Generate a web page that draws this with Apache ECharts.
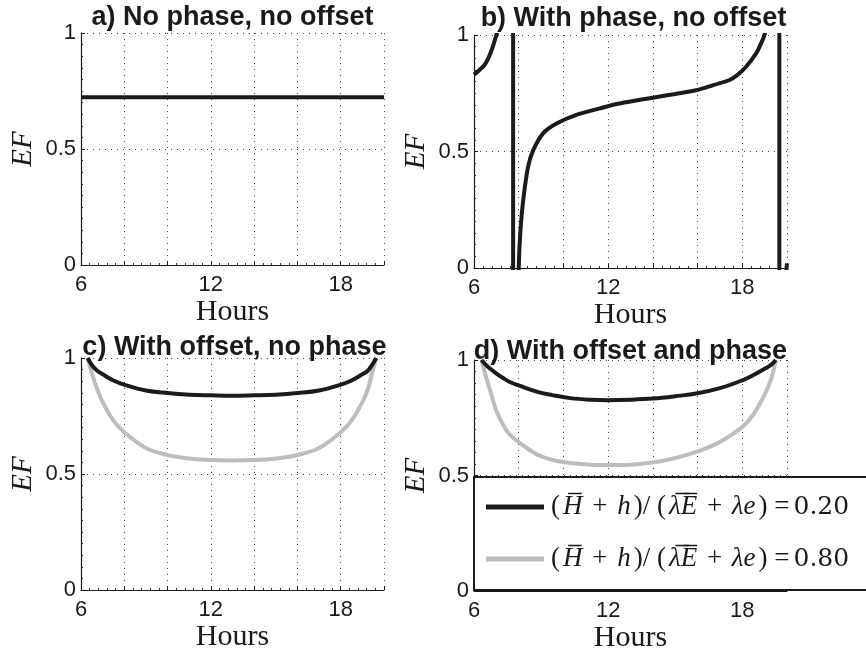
<!DOCTYPE html>
<html>
<head>
<meta charset="utf-8">
<script src="https://cdn.jsdelivr.net/npm/echarts@6/dist/echarts.min.js"></script>
<style>html,body{margin:0;padding:0;background:#fff;}#c{width:866px;height:655px;}</style>
</head>
<body>
<div id="c"></div>
<script>
// ---------- data ----------
const panelTitles = ['a) No phase, no offset', 'b) With phase, no offset', 'c) With offset, no phase', 'd) With offset and phase'];
const xTickLabels = [6, 12, 18];
const seriesNames = ['ratio020', 'ratio080'];
const ratioLabels = ['0.20', '0.80'];

// a) constant
const aHours = [6, 20];
const aEF = [0.723, 0.723];

// b) with phase, no offset (values beyond [0,1] are clipped)
const bHours = [6.0, 6.25, 6.5, 6.75, 7.0, 7.25, 7.5, 7.65, 7.74, 7.76, 7.85, 7.95, 8.0, 8.07, 8.2, 8.42, 8.65, 9.09, 9.69, 10.58, 11.63, 12.37, 13, 14, 15, 16, 16.7, 17.43, 17.8, 18.17, 18.62, 18.84, 18.99, 19.2, 19.45, 19.6, 19.65, 19.67, 19.8, 19.95, 20.0];
const bEF = [0.83, 0.85, 0.875, 0.925, 1.0, 1.1, 1.4, 2.5, 30, -30, -2, -0.3, 0.0, 0.15, 0.29, 0.435, 0.506, 0.578, 0.62, 0.657, 0.685, 0.704, 0.715, 0.731, 0.747, 0.764, 0.785, 0.807, 0.83, 0.864, 0.921, 0.964, 1.0, 1.1, 1.6, 4, 30, -30, -2, -0.05, 0.02];

// c) with offset, no phase
const cHours = [6.31, 6.5, 6.75, 7, 7.5, 8, 9, 10, 11, 12, 13, 14, 15, 16, 17, 18, 18.5, 19, 19.25, 19.45, 19.64];
const cEF020 = [1.0, 0.97, 0.945, 0.93, 0.903, 0.885, 0.86, 0.849, 0.842, 0.839, 0.837, 0.839, 0.842, 0.849, 0.86, 0.885, 0.903, 0.93, 0.945, 0.97, 1.0];
const cEF080 = [1.0, 0.935, 0.865, 0.81, 0.73, 0.68, 0.612, 0.582, 0.567, 0.56, 0.558, 0.56, 0.567, 0.582, 0.612, 0.68, 0.73, 0.81, 0.865, 0.935, 1.0];

// d) with offset and phase
const dHours = [6.34, 6.5, 6.7, 7, 7.3, 7.6, 8, 8.8, 9.5, 10.3, 11.2, 12, 13, 14, 15, 16, 17, 18, 18.5, 19, 19.3, 19.5];
const dEF020 = [1.0, 0.982, 0.964, 0.942, 0.922, 0.905, 0.89, 0.863, 0.848, 0.835, 0.828, 0.826, 0.828, 0.833, 0.843, 0.856, 0.878, 0.912, 0.935, 0.962, 0.98, 1.0];
const dEF080 = [1.0, 0.94, 0.875, 0.78, 0.72, 0.677, 0.645, 0.592, 0.568, 0.554, 0.547, 0.545, 0.547, 0.556, 0.575, 0.604, 0.645, 0.71, 0.765, 0.85, 0.92, 1.0];

// ---------- layout ----------
const grids = [
  {left: 81, top: 33, width: 303, height: 232},
  {left: 474, top: 35, width: 313, height: 233},
  {left: 81, top: 358, width: 303, height: 232},
  {left: 474, top: 360, width: 313, height: 231}
];
const titleY = [17.5, 19, 347.5, 352];
const BLACK = '#1b1b1b', GRAY = '#bdbdbd';

function pairs(xs, ys) { return xs.map((x, i) => [x, ys[i]]); }

const xAxes = grids.map((g, i) => ({
  type: 'value', gridIndex: i, min: 6, max: 20, interval: 2,
  name: 'Hours', nameLocation: 'middle', nameGap: 32,
  nameTextStyle: {fontFamily: 'Liberation Serif', fontSize: 30, color: '#1a1a1a'},
  axisLine: {show: true, onZero: false, lineStyle: {color: '#1a1a1a', width: 1.2}},
  axisTick: {show: true, inside: true, length: 4, lineStyle: {color: '#1a1a1a'}},
  minorTick: {show: true, splitNumber: 5, length: 2, lineStyle: {color: '#333'}},
  axisLabel: {
    fontFamily: 'Liberation Sans', fontSize: 22, color: '#1a1a1a', margin: 9,
    formatter: v => (xTickLabels.indexOf(v) >= 0 ? String(v) : '')
  },
  splitLine: {show: true, lineStyle: {color: '#444', width: 1, type: [1, 5]}}
}));

const yAxes = grids.map((g, i) => ({
  type: 'value', gridIndex: i, min: 0, max: 1, interval: 0.5,
  name: 'EF', nameLocation: 'middle', nameGap: 43,
  nameTextStyle: {fontFamily: 'Liberation Serif', fontStyle: 'italic', fontSize: 29, color: '#1a1a1a'},
  axisLine: {show: true, lineStyle: {color: '#1a1a1a', width: 1.2}},
  axisTick: {show: true, inside: true, length: 4, lineStyle: {color: '#1a1a1a'}},
  minorTick: {show: true, splitNumber: 10, length: 2, lineStyle: {color: '#333'}},
  axisLabel: {fontFamily: 'Liberation Sans', fontSize: 22, color: '#1a1a1a', margin: 5},
  splitLine: {show: true, lineStyle: {color: '#444', width: 1, type: [1, 5]}}
}));

function lineSeries(name, i, data, color, smooth) {
  return {
    name: name, type: 'line', xAxisIndex: i, yAxisIndex: i, data: data,
    showSymbol: false, symbol: 'none', clip: true,
    smooth: smooth,
    lineStyle: {color: color, width: 4}, itemStyle: {color: color}, z: 3
  };
}

const series = [
  lineSeries('a', 0, pairs(aHours, aEF), BLACK, false),
  lineSeries('b', 1, pairs(bHours, bEF), BLACK, 0.3),
  lineSeries(seriesNames[1], 2, pairs(cHours, cEF080), GRAY, 0.4),
  lineSeries(seriesNames[0], 2, pairs(cHours, cEF020), BLACK, 0.4),
  lineSeries(seriesNames[1], 3, pairs(dHours, dEF080), GRAY, 0.4),
  lineSeries(seriesNames[0], 3, pairs(dHours, dEF020), BLACK, 0.4)
];

const titleGraphics = panelTitles.map((t, i) => ({
  type: 'text', z: 50,
  x: grids[i].left + grids[i].width / 2 + (i === 1 ? 3 : 0) + (i === 2 ? 2 : 0), y: titleY[i],
  style: {text: t, font: 'bold 27px "Liberation Sans"', fill: '#1a1a1a', textAlign: 'center', textVerticalAlign: 'middle', verticalAlign: 'middle'}
}));

const option = {
  backgroundColor: '#fff',
  animation: false,
  grid: grids,
  xAxis: xAxes,
  yAxis: yAxes,
  series: series,
  legend: {
    show: true, z: 120, zlevel: 0,
    data: seriesNames,
    orient: 'vertical', left: 486, top: 492, padding: 0,
    itemWidth: 58, itemHeight: 5, itemGap: 22, icon: 'rect',
    selectedMode: false,
    formatter: function (name) {
      const r = ratioLabels[seriesNames.indexOf(name)];
      return '{n|(}{i|H\u0305}{n| + }{i|h}{n|)/ (}{i|\u03BB\u0305E\u0305}{n| + }{i|\u03BBe}{n|) =}{d|' + r + '}';
    },
    textStyle: {
      color: '#1a1a1a', fontFamily: 'Liberation Serif', fontSize: 27, lineHeight: 30,
      rich: {
        n: {fontFamily: 'Liberation Serif', fontSize: 27, lineHeight: 30, color: '#1a1a1a', padding: [0, 2, 0, 2]},
        i: {fontFamily: 'Liberation Serif', fontStyle: 'italic', fontSize: 27, lineHeight: 30, color: '#1a1a1a', padding: [0, 1, 0, 1]},
        d: {fontFamily: 'DejaVu Serif', fontSize: 25, lineHeight: 30, color: '#1a1a1a', padding: [0, 0, 0, 2]}
      }
    }
  },
  graphic: [
    {type: 'rect', z: 100, shape: {x: 474, y: 477, width: 420, height: 113},
     style: {fill: '#fff', stroke: '#1a1a1a', lineWidth: 2}}
  ].concat(titleGraphics)
};

const chart = echarts.init(document.getElementById('c'), null, {renderer: 'canvas'});
chart.setOption(option);
</script>
</body>
</html>
